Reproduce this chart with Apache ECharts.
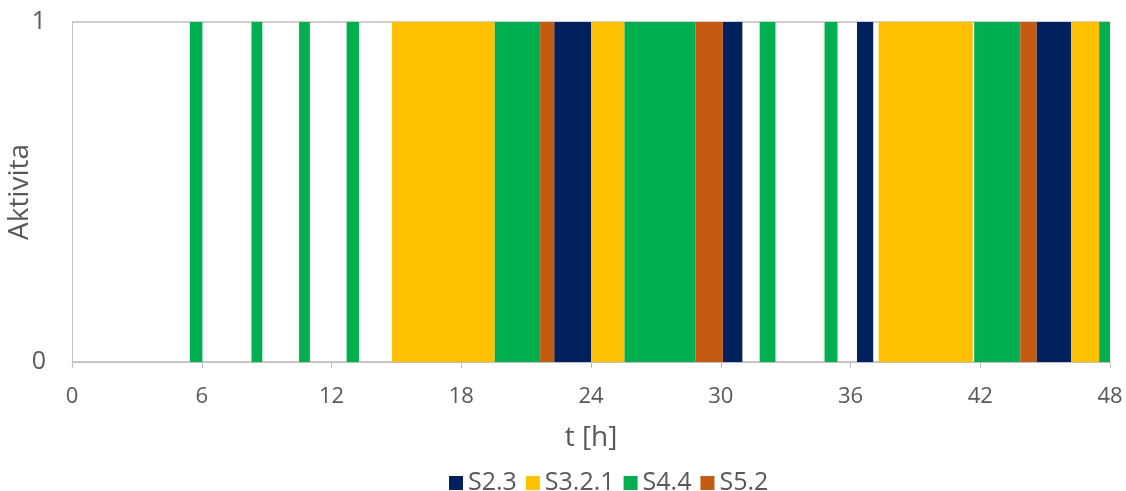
<!DOCTYPE html>
<html><head><meta charset="utf-8">
<script src="https://cdn.jsdelivr.net/npm/echarts@6/dist/echarts.min.js"></script>
<style>html,body{margin:0;padding:0;background:#fff}#c{width:1126px;height:491px}</style>
</head><body><div id="c"></div>
<script>
// Activity intervals [start h, end h] per series
const seriesNames = ['S2.3', 'S3.2.1', 'S4.4', 'S5.2'];
const S2_3 = [[22.3, 24.0], [30.1, 31.0], [36.3, 37.05], [44.6, 46.2]];
const S3_2_1 = [[14.8, 19.55], [24.0, 25.55], [37.3, 41.65], [46.2, 47.5]];
const S4_4 = [[5.45, 6.03], [8.3, 8.8], [10.5, 11.0], [12.7, 13.27], [19.55, 21.65], [25.55, 28.83], [31.8, 32.53], [34.8, 35.4], [41.72, 43.85], [47.5, 48.0]];
const S5_2 = [[21.65, 22.3], [28.83, 30.1], [43.85, 44.6]];
const xTicks = [0, 6, 12, 18, 24, 30, 36, 42, 48];
const colors = ['#002060', '#FFC000', '#00B050', '#C55A11'];

const chart = echarts.init(document.getElementById('c'));
const gray = '#595959';
const ff = 'Open Sans';
function mk(name, data, color) {
  return {
    type: 'custom', name: name,
    itemStyle: { color: color },
    renderItem: function (params, api) {
      const p0 = api.coord([api.value(0), 1]);
      const p1 = api.coord([api.value(1), 0]);
      return { type: 'rect', shape: { x: p0[0], y: p0[1], width: p1[0] - p0[0], height: p1[1] - p0[1] },
        style: { fill: color } };
    },
    encode: { x: [0, 1] },
    data: data
  };
}
chart.setOption({
  animation: false,
  color: colors,
  grid: { left: 72, right: 16, top: 22, bottom: 129, containLabel: false, outerBoundsMode: 'none' },
  legend: {
    top: 464, left: 444, itemWidth: 14, itemHeight: 14, itemGap: 9, icon: 'rect',
    textStyle: { fontSize: 25, lineHeight: 28, color: gray, fontFamily: ff },
    data: seriesNames
  },
  xAxis: {
    type: 'value', min: 0, max: 48, interval: 6,
    name: 't [h]', nameLocation: 'middle', nameGap: 62, nameMoveOverlap: false,
    nameTextStyle: { fontSize: 28, color: gray, fontFamily: ff },
    axisLine: { lineStyle: { color: '#BFBFBF', width: 1 } },
    axisTick: { show: true, length: 6, lineStyle: { color: '#BFBFBF' } },
    axisLabel: { fontSize: 22, color: gray, margin: 24, fontFamily: ff },
    splitLine: { show: false }
  },
  yAxis: {
    type: 'value', min: 0, max: 1, interval: 1,
    name: 'Aktivita', nameLocation: 'middle', nameGap: 38, nameRotate: 90, nameMoveOverlap: false,
    nameTextStyle: { fontSize: 28, color: gray, fontFamily: ff },
    axisLine: { show: true, lineStyle: { color: '#BFBFBF', width: 1 } },
    axisTick: { show: false },
    axisLabel: { fontSize: 25, color: gray, margin: 26, fontFamily: ff },
    splitLine: { show: true, lineStyle: { color: '#BFBFBF', width: 1.5 } }
  },
  series: [mk(seriesNames[0], S2_3, colors[0]), mk(seriesNames[1], S3_2_1, colors[1]),
           mk(seriesNames[2], S4_4, colors[2]), mk(seriesNames[3], S5_2, colors[3])]
});
</script></body></html>
